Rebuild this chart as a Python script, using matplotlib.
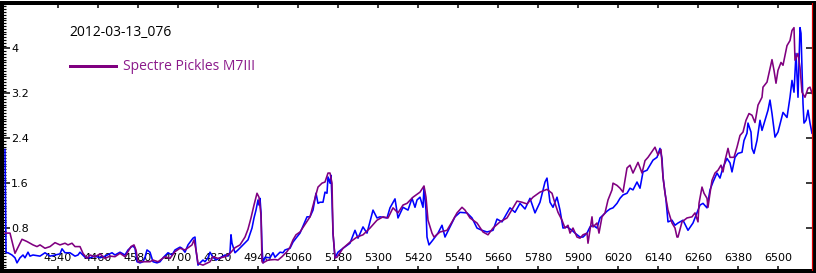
import matplotlib
matplotlib.use("Agg")
import matplotlib.pyplot as plt
from matplotlib.ticker import MultipleLocator, FixedLocator
from matplotlib.lines import Line2D

title = "2012-03-13_076"
label_pickles = "Spectre Pickles M7III"

x_ticks = [4340, 4460, 4580, 4700, 4820, 4940, 5060, 5180, 5300, 5420, 5540,
           5660, 5780, 5900, 6020, 6140, 6260, 6380, 6500]
y_ticks = [0.8, 1.6, 2.4, 3.2, 4.0]
y_tick_labels = ["0.8", "1.6", "2.4", "3.2", "4"]

wl_pickles = [4181,4196,4211,4232,4247,4265,4277,4286,4301,4316,4331,4346,4361,4370,4382,4391,4406,4415,4427,4436,
              4451,4466,4481,4496,4511,4526,4541,4550,4559,4568,4574,4580,4601,4616,4625,4640,4661,4676,4691,4706,
              4721,4742,4748,4754,4760,4775,4796,4805,4820,4841,4856,4871,4886,4901,4910,4919,4928,4937,4943,4949,
              4952,4955,4970,4991,5000,5012,5027,5036,5045,5054,5066,5096,5111,5120,5132,5141,5150,5156,5162,5165,
              5171,5177,5186,5195,5216,5237,5255,5276,5297,5315,5330,5345,5360,5375,5387,5405,5426,5438,5444,5450,
              5462,5468,5486,5507,5522,5537,5552,5561,5576,5597,5615,5630,5645,5666,5687,5705,5717,5732,5747,5765,
              5786,5807,5822,5831,5840,5852,5861,5870,5876,5885,5897,5906,5915,5927,5930,5942,5945,5957,5963,5972,
              5981,5990,6002,6005,6017,6026,6035,6047,6056,6065,6080,6092,6101,6110,6125,6131,6140,6149,6155,6161,
              6170,6182,6191,6197,6200,6212,6227,6242,6251,6260,6263,6272,6278,6287,6290,6296,6302,6311,6320,6329,
              6335,6341,6350,6356,6368,6377,6386,6395,6404,6413,6422,6431,6440,6452,6455,6467,6473,6482,6488,6494,
              6500,6509,6515,6527,6536,6542,6548,6551,6560,6566,6572,6581,6590,6596,6602]
flux_pickles = [0.71,0.71,0.35,0.60,0.56,0.50,0.47,0.50,0.44,0.47,0.54,0.50,0.53,0.50,0.53,0.47,0.47,0.35,0.26,0.32,
                0.29,0.34,0.26,0.30,0.29,0.35,0.29,0.38,0.47,0.50,0.41,0.20,0.20,0.20,0.23,0.20,0.29,0.26,0.38,0.44,
                0.41,0.50,0.59,0.41,0.17,0.14,0.20,0.29,0.26,0.29,0.35,0.45,0.50,0.64,0.78,0.98,1.21,1.42,1.35,1.03,
                0.20,0.18,0.23,0.24,0.23,0.29,0.38,0.46,0.59,0.68,0.73,1.00,1.33,1.53,1.60,1.62,1.78,1.78,1.60,0.71,
                0.27,0.28,0.36,0.44,0.55,0.64,0.68,0.80,0.94,1.00,0.98,1.16,1.07,1.21,1.24,1.35,1.44,1.55,1.35,0.94,
                0.71,0.64,0.73,0.76,0.91,1.07,1.17,1.12,0.98,0.89,0.73,0.68,0.80,0.91,0.98,1.16,1.28,1.26,1.23,1.35,
                1.44,1.49,1.42,1.24,1.08,0.94,0.80,0.85,0.71,0.80,0.64,0.62,0.68,0.71,0.53,1.00,0.82,0.89,0.71,1.00,
                1.07,1.30,1.48,1.60,1.56,1.51,1.44,1.87,1.92,1.78,1.97,1.78,2.00,2.06,2.19,2.24,2.10,2.20,1.71,1.42,
                1.12,0.89,0.80,0.64,0.64,0.91,0.98,1.00,1.07,0.91,1.24,1.53,1.42,1.33,1.17,1.42,1.65,1.78,1.83,1.92,
                1.80,2.00,2.22,2.06,2.06,2.24,2.45,2.51,2.72,2.84,2.81,2.68,2.99,3.13,3.31,3.40,3.56,3.80,3.61,3.38,
                3.61,3.75,3.70,4.05,4.14,4.32,4.37,3.79,3.91,3.66,3.22,3.13,3.29,3.31,3.20]

wl_obs = [4181,4184,4190,4202,4211,4217,4226,4235,4241,4250,4256,4265,4286,4301,4316,4331,4346,4352,4361,4376,
          4391,4400,4406,4421,4436,4451,4466,4481,4502,4511,4526,4541,4550,4559,4565,4571,4577,4586,4595,4601,
          4607,4616,4625,4637,4646,4655,4670,4682,4691,4706,4712,4721,4730,4745,4751,4754,4760,4766,4775,4781,
          4790,4796,4805,4814,4826,4841,4850,4856,4859,4862,4871,4880,4895,4910,4922,4928,4934,4940,4943,4946,
          4949,4952,4955,4961,4976,4985,4991,5006,5015,5021,5036,5045,5054,5066,5087,5096,5105,5114,5120,5126,
          5135,5141,5147,5150,5156,5159,5162,5165,5171,5180,5195,5216,5231,5240,5255,5267,5285,5297,5306,5327,
          5336,5351,5360,5375,5390,5402,5411,5417,5426,5435,5438,5444,5447,5453,5465,5480,5492,5501,5516,5531,
          5546,5567,5582,5597,5612,5627,5645,5657,5672,5696,5711,5726,5741,5756,5771,5786,5801,5807,5816,5825,
          5837,5846,5855,5867,5882,5891,5906,5915,5927,5936,5945,5957,5966,5975,5987,5996,6005,6017,6026,6035,
          6047,6056,6065,6077,6086,6095,6107,6116,6125,6137,6146,6152,6155,6164,6170,6182,6191,6200,6215,6230,
          6245,6257,6266,6275,6287,6296,6305,6317,6326,6335,6347,6356,6362,6371,6380,6392,6398,6407,6410,6419,
          6422,6428,6437,6446,6452,6461,6470,6476,6482,6491,6500,6509,6515,6527,6536,6542,6548,6554,6560,6566,
          6569,6575,6578,6584,6590,6596,6602]
flux_obs = [2.20,0.36,0.36,0.32,0.27,0.18,0.27,0.32,0.27,0.37,0.30,0.32,0.30,0.36,0.30,0.32,0.34,0.43,0.36,0.36,
            0.30,0.32,0.37,0.28,0.27,0.30,0.27,0.30,0.36,0.32,0.37,0.32,0.41,0.46,0.48,0.44,0.20,0.18,0.20,0.28,
            0.41,0.37,0.20,0.18,0.20,0.27,0.36,0.32,0.41,0.46,0.44,0.37,0.50,0.62,0.64,0.41,0.14,0.18,0.23,0.20,
            0.27,0.37,0.28,0.23,0.27,0.32,0.30,0.37,0.68,0.53,0.36,0.41,0.50,0.59,0.80,0.98,1.12,1.30,1.21,1.33,
            1.08,0.46,0.18,0.28,0.27,0.36,0.28,0.37,0.36,0.41,0.44,0.55,0.62,0.71,1.00,1.00,1.12,1.42,1.24,1.26,
            1.26,1.44,1.42,1.71,1.60,1.74,1.30,0.71,0.27,0.37,0.44,0.53,0.76,0.62,0.82,0.71,1.12,0.98,1.00,0.98,
            1.16,1.32,0.98,1.17,1.12,1.33,1.17,1.30,1.35,1.17,1.53,1.12,0.64,0.50,0.59,0.71,0.85,0.64,0.82,1.00,
            1.08,1.07,0.98,0.80,0.76,0.73,0.76,0.96,0.91,1.16,1.08,1.24,1.14,1.33,1.07,1.26,1.62,1.69,1.26,1.17,
            1.35,1.12,0.80,0.82,0.76,0.71,0.64,0.64,0.71,0.82,0.85,0.80,0.98,1.03,1.10,1.14,1.16,1.24,1.33,1.39,
            1.42,1.51,1.48,1.62,1.51,1.80,1.83,1.92,2.01,2.06,2.22,2.04,1.71,1.30,0.91,0.94,0.85,0.89,0.94,0.76,
            0.89,1.07,1.21,1.24,1.16,1.48,1.62,1.78,1.69,1.88,2.04,1.96,1.80,2.06,2.13,2.15,2.36,2.49,2.67,2.51,
            2.22,2.13,2.36,2.72,2.54,2.72,2.90,3.08,2.84,2.42,2.51,2.72,2.86,2.77,3.13,3.43,3.22,3.91,3.13,4.37,
            4.27,3.02,2.67,2.72,2.90,2.67,2.49]

W, H, DPI = 816, 273, 100
fig = plt.figure(figsize=(W / DPI, H / DPI), dpi=DPI, facecolor="white")
px = 72.0 / DPI  # points per pixel

ax = fig.add_axes([2 / W, 2.5 / H, 812 / W, 268 / H])
ax.set_facecolor("white")

ax.plot(wl_obs, flux_obs, color="#0000FF", lw=1.6 * px, zorder=3)
ax.plot(wl_pickles, flux_pickles, color="#800080", lw=1.6 * px, zorder=4)

ax.set_xlim(4172, 6608)
ax.set_ylim(0.044, 4.818)

for s in ax.spines.values():
    s.set_linewidth(4 * px)
    s.set_color("black")
ax.axvline(6603.5, color="#e00000", lw=1.2 * px, zorder=5)

ax.xaxis.set_major_locator(FixedLocator(x_ticks))
ax.set_xticklabels([str(v) for v in x_ticks])
ax.yaxis.set_major_locator(FixedLocator(y_ticks))
ax.set_yticklabels(y_tick_labels)
ax.yaxis.set_minor_locator(MultipleLocator(0.05))

ax.tick_params(axis="x", which="major", direction="in", top=True, bottom=True,
               length=5 * px, width=1.5 * px, labelsize=8, pad=-5.5, colors="black")
ax.tick_params(axis="y", which="major", direction="in", left=True, right=True,
               length=8 * px, width=1.5 * px, labelsize=8, pad=-6.5, colors="black")
ax.tick_params(axis="y", which="minor", direction="in", left=True, right=False,
               length=4 * px, width=1.2 * px)
ax.tick_params(axis="x", which="minor", bottom=False, top=False)

for lab in ax.get_xticklabels():
    lab.set_verticalalignment("bottom")
    lab.set_color("black")
    lab.set_zorder(2.5)
for lab in ax.get_yticklabels():
    lab.set_horizontalalignment("left")
    lab.set_color("black")

fig.text(69 / W, 1 - 32 / H, title, fontsize=10, family=["Open Sans", "DejaVu Sans"],
         color="black", va="center", ha="left")

handle = Line2D([], [], color="#800080", lw=3 * px)
leg = ax.legend([handle], [label_pickles], loc="center left",
                bbox_to_anchor=(70 / W, 1 - 67 / H), bbox_transform=fig.transFigure,
                frameon=False, borderpad=0, borderaxespad=0,
                handlelength=3.3, handletextpad=0.55,
                prop={"family": ["Open Sans", "DejaVu Sans"], "size": 10},
                labelcolor="#8B1A8B")

fig.savefig("out.png", dpi=DPI, facecolor="white")
